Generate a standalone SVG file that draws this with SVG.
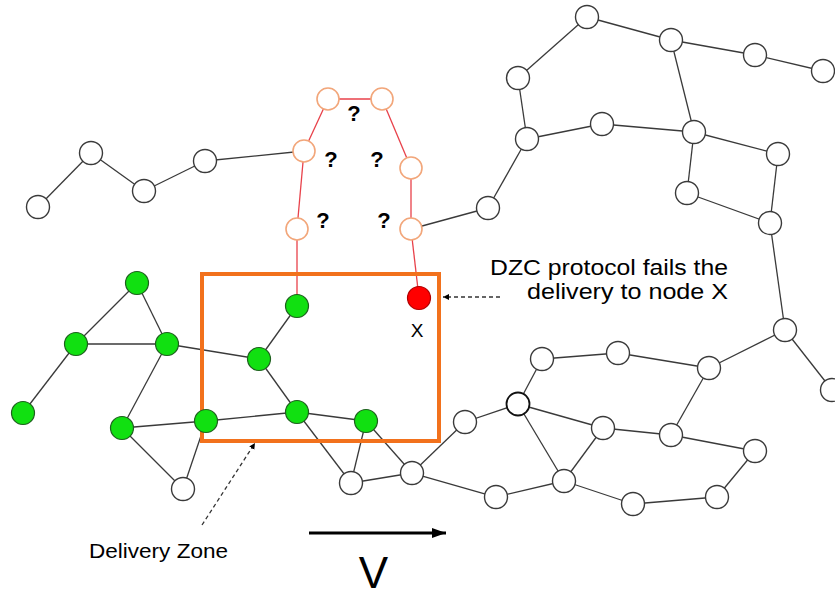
<svg xmlns="http://www.w3.org/2000/svg" width="835" height="598" viewBox="0 0 835 598">
  <style>
    .edge { stroke: #3a3a3a; stroke-width: 1.3; fill: none; }
    .redge { stroke: #e8414a; stroke-width: 1.3; fill: none; }
    .plain { fill: #ffffff; stroke: #3a3a3a; stroke-width: 1.4; }
    .probe { fill: #ffffff; stroke: #f2a67a; stroke-width: 1.6; }
    .green { fill: #11e011; stroke: #1f5f1f; stroke-width: 1.2; }
    .red { fill: #ff0000; stroke: #b00000; stroke-width: 1.2; }
    .zone { fill: none; stroke: #f2711c; stroke-width: 4; }
    .q { font-family: "Liberation Sans", Arial, sans-serif; font-size: 22px; font-weight: bold; fill: #000; text-anchor: middle; }
    .lbl { font-family: "Liberation Sans", Arial, sans-serif; fill: #000; }
    .dash { stroke: #333; stroke-width: 1.3; stroke-dasharray: 4 3; fill: none; }
  </style>
  <defs>
    <marker id="tip" markerWidth="8" markerHeight="8" refX="6" refY="4" orient="auto" markerUnits="userSpaceOnUse">
      <path d="M0,1 L6,4 L0,7 Z" fill="#000"/>
    </marker>
    <marker id="bigtip" markerWidth="16" markerHeight="12" refX="14" refY="6" orient="auto" markerUnits="userSpaceOnUse">
      <path d="M0,1 L14,6 L0,11 Z" fill="#000"/>
    </marker>
  </defs>

  <rect width="835" height="598" fill="#ffffff"/>

  <!-- links -->
  <g id="connectors">
    <!-- upper left chain -->
    <line class="edge" x1="38" y1="207" x2="91" y2="153"/>
    <line class="edge" x1="91" y1="153" x2="144" y2="191"/>
    <line class="edge" x1="144" y1="191" x2="205" y2="161"/>
    <line class="edge" x1="205" y1="161" x2="304" y2="151"/>
    <!-- probed path -->
    <line class="redge" x1="328" y1="99" x2="382" y2="99"/>
    <line class="redge" x1="328" y1="99" x2="304" y2="151"/>
    <line class="redge" x1="382" y1="99" x2="411" y2="168"/>
    <line class="redge" x1="304" y1="151" x2="297" y2="229"/>
    <line class="redge" x1="411" y1="168" x2="411" y2="229"/>
    <line class="redge" x1="297" y1="229" x2="297" y2="306"/>
    <line class="redge" x1="411" y1="229" x2="419" y2="298"/>
    <!-- upper right mesh -->
    <line class="edge" x1="411" y1="229" x2="488" y2="208"/>
    <line class="edge" x1="488" y1="208" x2="527" y2="139"/>
    <line class="edge" x1="527" y1="139" x2="518" y2="78"/>
    <line class="edge" x1="518" y1="78" x2="587" y2="17"/>
    <line class="edge" x1="587" y1="17" x2="671" y2="40"/>
    <line class="edge" x1="671" y1="40" x2="755" y2="55"/>
    <line class="edge" x1="755" y1="55" x2="823" y2="71"/>
    <line class="edge" x1="527" y1="139" x2="602" y2="124"/>
    <line class="edge" x1="602" y1="124" x2="694" y2="132"/>
    <line class="edge" x1="671" y1="40" x2="694" y2="132"/>
    <line class="edge" x1="694" y1="132" x2="778" y2="154"/>
    <line class="edge" x1="694" y1="132" x2="687" y2="193"/>
    <line class="edge" x1="687" y1="193" x2="770" y2="223"/>
    <line class="edge" x1="778" y1="154" x2="770" y2="223"/>
    <line class="edge" x1="770" y1="223" x2="785" y2="330"/>
    <line class="edge" x1="785" y1="330" x2="832" y2="390"/>
    <line class="edge" x1="785" y1="330" x2="709" y2="368"/>
    <!-- lower right mesh -->
    <line class="edge" x1="709" y1="368" x2="618" y2="353"/>
    <line class="edge" x1="618" y1="353" x2="542" y2="359"/>
    <line class="edge" x1="542" y1="359" x2="518" y2="404"/>
    <line class="edge" x1="518" y1="404" x2="465" y2="422"/>
    <line class="edge" x1="465" y1="422" x2="412" y2="473"/>
    <line class="edge" x1="518" y1="404" x2="603" y2="428"/>
    <line class="edge" x1="518" y1="404" x2="564" y2="481"/>
    <line class="edge" x1="603" y1="428" x2="564" y2="481"/>
    <line class="edge" x1="603" y1="428" x2="671" y2="435"/>
    <line class="edge" x1="671" y1="435" x2="709" y2="368"/>
    <line class="edge" x1="671" y1="435" x2="755" y2="451"/>
    <line class="edge" x1="755" y1="451" x2="717" y2="497"/>
    <line class="edge" x1="717" y1="497" x2="633" y2="504"/>
    <line class="edge" x1="633" y1="504" x2="564" y2="481"/>
    <line class="edge" x1="564" y1="481" x2="496" y2="497"/>
    <line class="edge" x1="496" y1="497" x2="412" y2="473"/>
    <!-- left cluster -->
    <line class="edge" x1="137" y1="283" x2="76" y2="344"/>
    <line class="edge" x1="137" y1="283" x2="167" y2="344"/>
    <line class="edge" x1="76" y1="344" x2="167" y2="344"/>
    <line class="edge" x1="76" y1="344" x2="23" y2="413"/>
    <line class="edge" x1="167" y1="344" x2="122" y2="428"/>
    <line class="edge" x1="167" y1="344" x2="259" y2="359"/>
    <line class="edge" x1="122" y1="428" x2="206" y2="421"/>
    <line class="edge" x1="122" y1="428" x2="183" y2="489"/>
    <line class="edge" x1="183" y1="489" x2="206" y2="421"/>
    <line class="edge" x1="206" y1="421" x2="297" y2="412"/>
    <line class="edge" x1="259" y1="359" x2="297" y2="306"/>
    <line class="edge" x1="259" y1="359" x2="297" y2="412"/>
    <line class="edge" x1="297" y1="412" x2="366" y2="421"/>
    <line class="edge" x1="297" y1="412" x2="351" y2="483"/>
    <line class="edge" x1="366" y1="421" x2="351" y2="483"/>
    <line class="edge" x1="366" y1="421" x2="412" y2="473"/>
    <line class="edge" x1="351" y1="483" x2="412" y2="473"/>
  </g>

  <!-- delivery zone -->
  <rect id="delivery-zone" class="zone" x="202" y="274" width="237" height="167"/>

  <!-- upper left chain -->
  <g id="a1"><circle class="plain" cx="38" cy="207" r="11.5"/></g>
  <g id="a2"><circle class="plain" cx="91" cy="153" r="11.5"/></g>
  <g id="a3"><circle class="plain" cx="144" cy="191" r="11.5"/></g>
  <g id="a4"><circle class="plain" cx="205" cy="161" r="11.5"/></g>

  <!-- probed nodes -->
  <g id="p1"><circle class="probe" cx="328" cy="99" r="11"/></g>
  <g id="p2"><circle class="probe" cx="382" cy="99" r="11"/></g>
  <g id="p3"><circle class="probe" cx="304" cy="151" r="11"/></g>
  <g id="p4"><circle class="probe" cx="411" cy="168" r="11"/></g>
  <g id="p5"><circle class="probe" cx="297" cy="229" r="11"/></g>
  <g id="p6"><circle class="probe" cx="411" cy="229" r="11"/></g>

  <!-- upper right mesh -->
  <g id="b1"><circle class="plain" cx="587" cy="17" r="11.5"/></g>
  <g id="b2"><circle class="plain" cx="671" cy="40" r="11.5"/></g>
  <g id="b3"><circle class="plain" cx="755" cy="55" r="11.5"/></g>
  <g id="b4"><circle class="plain" cx="823" cy="71" r="11.5"/></g>
  <g id="b5"><circle class="plain" cx="518" cy="78" r="11.5"/></g>
  <g id="b6"><circle class="plain" cx="527" cy="139" r="11.5"/></g>
  <g id="b7"><circle class="plain" cx="602" cy="124" r="11.5"/></g>
  <g id="b8"><circle class="plain" cx="694" cy="132" r="11.5"/></g>
  <g id="b9"><circle class="plain" cx="778" cy="154" r="11.5"/></g>
  <g id="b10"><circle class="plain" cx="687" cy="193" r="11.5"/></g>
  <g id="b11"><circle class="plain" cx="770" cy="223" r="11.5"/></g>
  <g id="b12"><circle class="plain" cx="488" cy="208" r="11.5"/></g>

  <!-- lower right mesh -->
  <g id="c1"><circle class="plain" cx="785" cy="330" r="11.5"/></g>
  <g id="c2"><circle class="plain" cx="832" cy="390" r="11.5"/></g>
  <g id="c3"><circle class="plain" cx="542" cy="359" r="11.5"/></g>
  <g id="c4"><circle class="plain" cx="618" cy="353" r="11.5"/></g>
  <g id="c5"><circle class="plain" cx="709" cy="368" r="11.5"/></g>
  <g id="c6"><circle class="plain" cx="518" cy="404" r="11.5" style="stroke:#111;stroke-width:1.8"/></g>
  <g id="c7"><circle class="plain" cx="465" cy="422" r="11.5"/></g>
  <g id="c8"><circle class="plain" cx="603" cy="428" r="11.5"/></g>
  <g id="c9"><circle class="plain" cx="671" cy="435" r="11.5"/></g>
  <g id="c10"><circle class="plain" cx="755" cy="451" r="11.5"/></g>
  <g id="c11"><circle class="plain" cx="412" cy="473" r="11.5"/></g>
  <g id="c12"><circle class="plain" cx="496" cy="497" r="11.5"/></g>
  <g id="c13"><circle class="plain" cx="564" cy="481" r="11.5"/></g>
  <g id="c14"><circle class="plain" cx="633" cy="504" r="11.5"/></g>
  <g id="c15"><circle class="plain" cx="717" cy="497" r="11.5"/></g>

  <!-- left cluster -->
  <g id="g1"><circle class="green" cx="137" cy="283" r="11.5"/></g>
  <g id="g2"><circle class="green" cx="76" cy="344" r="11.5"/></g>
  <g id="g3"><circle class="green" cx="167" cy="344" r="11.5"/></g>
  <g id="g4"><circle class="green" cx="23" cy="413" r="11.5"/></g>
  <g id="g5"><circle class="green" cx="122" cy="428" r="11.5"/></g>
  <g id="g6"><circle class="green" cx="206" cy="421" r="11.5"/></g>
  <g id="g7"><circle class="green" cx="297" cy="306" r="11.5"/></g>
  <g id="g8"><circle class="green" cx="259" cy="359" r="11.5"/></g>
  <g id="g9"><circle class="green" cx="297" cy="412" r="11.5"/></g>
  <g id="g10"><circle class="green" cx="366" cy="421" r="11.5"/></g>
  <g id="w1"><circle class="plain" cx="183" cy="489" r="11.5"/></g>
  <g id="w2"><circle class="plain" cx="351" cy="483" r="11.5"/></g>

  <!-- target node X -->
  <g id="node-x">
    <circle class="red" cx="419" cy="298" r="11.5"/>
    <text class="lbl" x="417" y="337" font-size="19" text-anchor="middle">X</text>
  </g>

  <!-- unknown hops -->
  <g id="unknowns">
    <text class="q" x="354" y="121">?</text>
    <text class="q" x="331" y="167">?</text>
    <text class="q" x="377" y="167">?</text>
    <text class="q" x="323" y="228">?</text>
    <text class="q" x="384" y="228">?</text>
  </g>

  <!-- annotations -->
  <g id="note-failure">
    <text class="lbl" font-size="22" text-anchor="end" x="728" y="275" textLength="238" lengthAdjust="spacingAndGlyphs">DZC protocol fails the</text>
    <text class="lbl" font-size="22" text-anchor="end" x="728" y="299" textLength="201" lengthAdjust="spacingAndGlyphs">delivery to node X</text>
    <line class="dash" x1="500" y1="297" x2="443" y2="297" marker-end="url(#tip)"/>
  </g>

  <g id="note-zone">
    <text class="lbl" font-size="21" x="89" y="558" textLength="139" lengthAdjust="spacingAndGlyphs">Delivery Zone</text>
    <line class="dash" x1="202" y1="525" x2="255" y2="443" marker-end="url(#tip)"/>
  </g>

  <g id="velocity">
    <line x1="309" y1="533" x2="446" y2="533" stroke="#000" stroke-width="3" marker-end="url(#bigtip)"/>
    <text class="lbl" font-size="44" x="373.5" y="588" text-anchor="middle">V</text>
  </g>
</svg>
